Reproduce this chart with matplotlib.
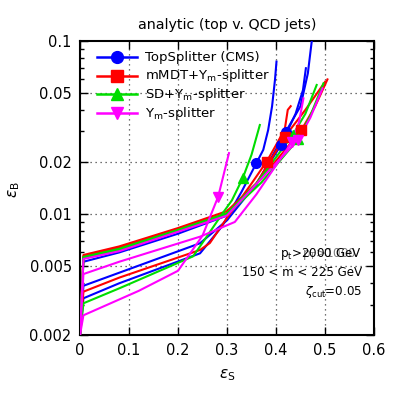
import matplotlib
matplotlib.use("Agg")
import matplotlib.pyplot as plt
from matplotlib.ticker import FixedLocator, NullFormatter

plt.rcParams['font.family'] = ['DejaVu Sans']

# ---- data: (eps_S, eps_B) curves, 3 per tagger, with one marker point each ----
top_top_s = [0.0, 0.007, 0.08, 0.2, 0.30, 0.36, 0.42, 0.45, 0.465, 0.473]
top_top_b = [0.002, 0.0053, 0.0060, 0.0077, 0.0098, 0.0148, 0.0299, 0.042, 0.065, 0.1]
top_mid_s = [0.0, 0.007, 0.08, 0.245, 0.30, 0.36, 0.41, 0.44, 0.455, 0.461]
top_mid_b = [0.002, 0.00385, 0.00458, 0.00678, 0.0092, 0.0150, 0.0250, 0.038, 0.052, 0.0696]
top_bot_s = [0.0, 0.007, 0.08, 0.245, 0.29, 0.33, 0.36, 0.374, 0.384, 0.392, 0.398, 0.401]
top_bot_b = [0.002, 0.00326, 0.00398, 0.00593, 0.0085, 0.0135, 0.0197, 0.0235, 0.0306, 0.042, 0.060, 0.076]
top_mark_s = [0.42, 0.41, 0.36]
top_mark_b = [0.0299, 0.0250, 0.0197]

mm_top_s = [0.0, 0.007, 0.08, 0.2, 0.30, 0.37, 0.452, 0.48, 0.505]
mm_top_b = [0.002, 0.0058, 0.0065, 0.0083, 0.0104, 0.0160, 0.0306, 0.042, 0.060]
mm_mid_s = [0.0, 0.007, 0.08, 0.245, 0.265, 0.30, 0.35, 0.381, 0.40, 0.418, 0.424, 0.430]
mm_mid_b = [0.002, 0.00356, 0.00429, 0.0062, 0.0068, 0.0095, 0.0150, 0.0201, 0.025, 0.031, 0.040, 0.042]
mm_3_s = [0.0, 0.007, 0.08, 0.2, 0.30, 0.36, 0.418, 0.46, 0.50]
mm_3_b = [0.002, 0.0057, 0.0064, 0.0082, 0.0101, 0.0150, 0.0280, 0.040, 0.058]
mm_mark_s = [0.452, 0.381, 0.418]
mm_mark_b = [0.0306, 0.0201, 0.0280]

sd_top_s = [0.0, 0.007, 0.08, 0.2, 0.30, 0.36, 0.434, 0.46, 0.483]
sd_top_b = [0.002, 0.00565, 0.0063, 0.0081, 0.0101, 0.0150, 0.0286, 0.038, 0.0557]
sd_2_s = [0.0, 0.007, 0.08, 0.2, 0.30, 0.37, 0.445, 0.47, 0.497]
sd_2_b = [0.002, 0.0056, 0.0062, 0.0080, 0.0099, 0.0152, 0.0270, 0.037, 0.057]
sd_bot_s = [0.0, 0.007, 0.08, 0.231, 0.26, 0.29, 0.31, 0.332, 0.35, 0.367]
sd_bot_b = [0.002, 0.00305, 0.00372, 0.0057, 0.0075, 0.0100, 0.0120, 0.0161, 0.022, 0.0327]
sd_mark_s = [0.434, 0.445, 0.332]
sd_mark_b = [0.0286, 0.0270, 0.0161]

ym_top_s = [0.0, 0.007, 0.08, 0.2, 0.30, 0.37, 0.445, 0.47, 0.495]
ym_top_b = [0.002, 0.0055, 0.0061, 0.0079, 0.0098, 0.0160, 0.0268, 0.036, 0.0533]
ym_mid_s = [0.0, 0.007, 0.08, 0.245, 0.316, 0.36, 0.432, 0.447, 0.456]
ym_mid_b = [0.002, 0.0045, 0.0053, 0.0074, 0.0090, 0.0130, 0.0260, 0.034, 0.0466]
ym_bot_s = [0.0, 0.007, 0.12, 0.2, 0.25, 0.282, 0.304]
ym_bot_b = [0.002, 0.0026, 0.0036, 0.0047, 0.0075, 0.0126, 0.0225]
ym_mark_s = [0.445, 0.432, 0.282]
ym_mark_b = [0.0268, 0.0260, 0.0126]

labels = ['TopSplitter (CMS)', r'mMDT+Y$_\mathrm{m}$-splitter',
          r'SD+Y$_\mathrm{m}$-splitter', r'Y$_\mathrm{m}$-splitter']
colors = ['#0000ff', '#ff0000', '#00dd00', '#ff00ff']
markers = ['o', 's', '^', 'v']

series = [
    ([(top_top_s, top_top_b), (top_mid_s, top_mid_b), (top_bot_s, top_bot_b)], (top_mark_s, top_mark_b)),
    ([(mm_top_s, mm_top_b), (mm_mid_s, mm_mid_b), (mm_3_s, mm_3_b)], (mm_mark_s, mm_mark_b)),
    ([(sd_top_s, sd_top_b), (sd_2_s, sd_2_b), (sd_bot_s, sd_bot_b)], (sd_mark_s, sd_mark_b)),
    ([(ym_top_s, ym_top_b), (ym_mid_s, ym_mid_b), (ym_bot_s, ym_bot_b)], (ym_mark_s, ym_mark_b)),
]

W = H = 399
fig = plt.figure(figsize=(W / 100, H / 100), dpi=100)
ax = fig.add_axes([80 / W, 1 - 335 / H, 294 / W, 294 / H])

for (curves, (ms, mb)), c, m in zip(series, colors, markers):
    for xs, ys in curves:
        ax.plot(xs, ys, color=c, lw=1.5, zorder=3)
    ax.plot(ms, mb, ls='none', marker=m, color=c, ms=7, zorder=4)

ax.set_yscale('log')
ax.set_xlim(0, 0.6)
ax.set_ylim(0.002, 0.1)

ax.xaxis.set_major_locator(FixedLocator([0, 0.1, 0.2, 0.3, 0.4, 0.5, 0.6]))
ax.set_xticklabels(['0', '0.1', '0.2', '0.3', '0.4', '0.5', '0.6'])
yt = [0.002, 0.005, 0.01, 0.02, 0.05, 0.1]
ax.yaxis.set_major_locator(FixedLocator(yt))
ax.set_yticklabels(['0.002', '0.005', '0.01', '0.02', '0.05', '0.1'])
minor = [0.003, 0.004, 0.006, 0.007, 0.008, 0.009, 0.03, 0.04, 0.06, 0.07, 0.08, 0.09]
ax.yaxis.set_minor_locator(FixedLocator(minor))
ax.yaxis.set_minor_formatter(NullFormatter())
ax.tick_params(which='both', direction='in', top=True, right=True, labelsize=10.5, width=1.0)
ax.tick_params(which='major', length=6, pad=6)
ax.tick_params(which='minor', length=3)
for s in ax.spines.values():
    s.set_linewidth(1.5)

for x in [0.1, 0.2, 0.3, 0.4, 0.5]:
    ax.axvline(x, color='#444444', ls=(0, (1, 3)), lw=0.9, zorder=1)
for y in [0.005, 0.01, 0.02, 0.05]:
    ax.axhline(y, color='#444444', ls=(0, (1, 3)), lw=0.9, zorder=1)

# manual legend (pixel positions in figure)
rows_y = [57.3, 75.7, 94.3, 113.3]
for lab, c, m, ry in zip(labels, colors, markers, rows_y):
    fy = 1 - ry / H
    fig.add_artist(plt.Line2D([97 / W, 137 / W], [fy, fy], color=c, lw=1.8,
                              transform=fig.transFigure, zorder=5))
    fig.add_artist(plt.Line2D([117 / W], [fy], color=c, marker=m, ms=8.5, ls='none',
                              transform=fig.transFigure, zorder=5))
    fig.text(145 / W, fy, lab, ha='left', va='center', fontsize=9.5)

fig.text(0.5 * (80 + 374) / W, 1 - 25 / H, 'analytic (top v. QCD jets)', ha='center',
         va='center', fontsize=10.3)
fig.text(227 / W, 1 - 375 / H, r'$\varepsilon_\mathrm{S}$', ha='center', va='center', fontsize=11)
fig.text(14 / W, 1 - 190 / H, r'$\varepsilon_\mathrm{B}$', ha='center', va='center',
         fontsize=11, rotation=90)

fig.text(362 / W, 1 - 254 / H, r'p$_\mathrm{t}$>2000 GeV', ha='right', va='center', fontsize=8.6)
fig.text(356 / W, 1 - 254 / H, r'p$_\mathrm{T}$>1000', ha='right', va='center', fontsize=8.6,
         alpha=0.5)
fig.text(362 / W, 1 - 273 / H, '150 < m < 225 GeV', ha='right', va='center', fontsize=8.6)
fig.text(362 / W, 1 - 292 / H, r'$\zeta_\mathrm{cut}$=0.05', ha='right', va='center', fontsize=8.6)

fig.savefig('out.png', dpi=100)
